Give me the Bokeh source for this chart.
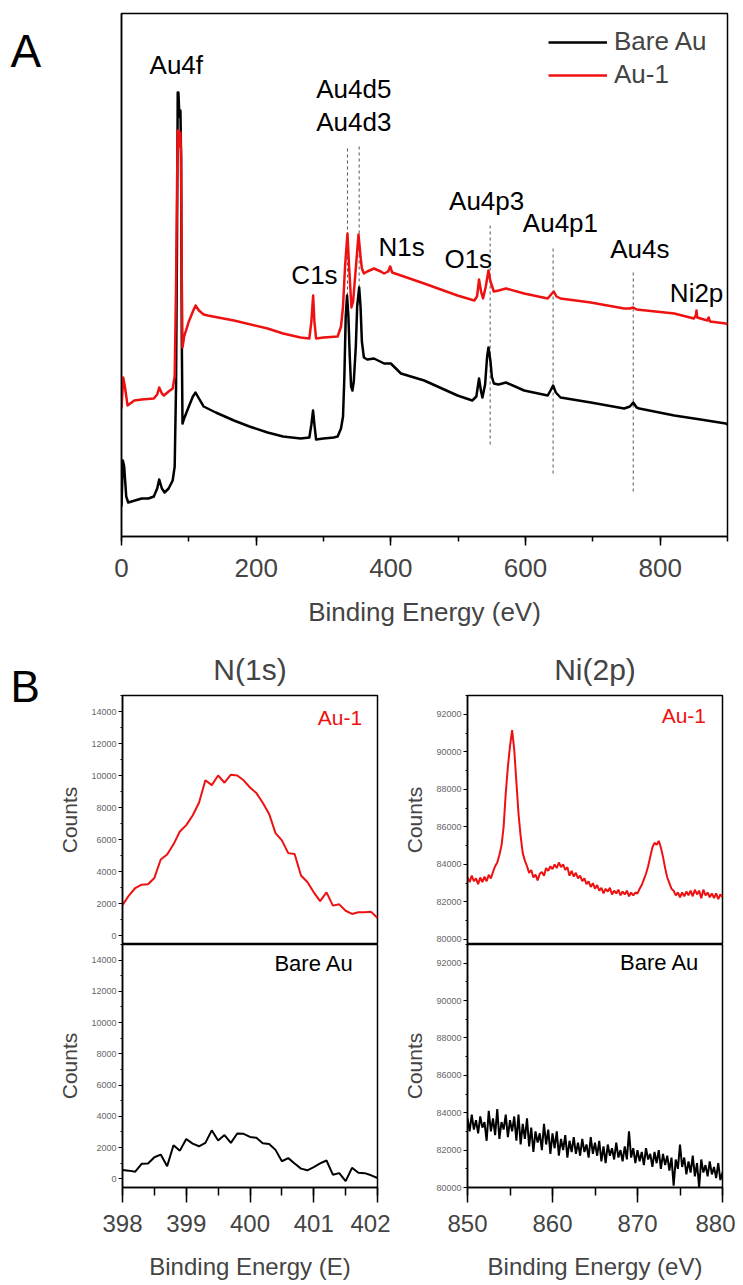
import numpy as np
from bokeh.plotting import figure
from bokeh.layouts import column, row
from bokeh.models import SingleIntervalTicker, FixedTicker, Label, Range1d
from bokeh.core.properties import value
from bokeh.embed import file_html
from bokeh.resources import INLINE

FONT = "Liberation Sans"
RED = "#ee1111"

# ---------------- Panel A: XPS survey (arbitrary intensity units) ----------------
bare_ev = [0, 2, 4, 7, 10, 20, 30, 40, 48, 53, 56, 60, 64, 70, 76, 79, 81, 82.5, 83.5, 84.5,
           86, 87.5, 88.5, 89.5, 90.6, 93, 100, 106, 110, 115, 122, 128, 140, 167, 190, 217,
           240, 266, 279, 282, 284.5, 286.5, 289, 300, 315, 321, 326, 329, 331, 333, 335, 337,
           339, 341, 343, 345, 348, 350, 353, 355, 357, 360, 365, 375, 390, 400, 415, 449.5,
           499, 521, 527, 531, 534, 536, 540, 543, 545, 548, 550, 553, 560, 571, 598, 633, 638,
           641, 645, 652, 697, 746.5, 755, 760, 765, 769, 821, 860, 897.5, 900]
bare_int = [30, 76, 70, 40, 34, 36, 38, 38, 40, 48, 57, 48, 44, 48, 56, 70, 150, 300, 444, 444,
            420, 426, 380, 200, 113, 118, 130, 140, 144, 138, 130, 128, 124, 116, 110, 104,
            100, 98, 99, 112, 126, 112, 97, 98, 99, 100, 108, 120, 160, 220, 241, 220,
            180, 150, 146, 155, 190, 230, 249, 230, 195, 179, 177, 178, 173, 173, 163, 156,
            141, 136, 140, 158, 145, 139, 152, 180, 189, 175, 160, 153, 152, 154, 146, 141, 147,
            151, 144, 139, 134, 128, 130, 134, 129, 128, 121, 117, 113, 112]

au1_ev = [0, 2.5, 5, 9, 19, 30, 48, 53, 56, 60, 63, 70, 76, 79, 81, 82.5, 83.5, 84.5, 86, 87.5,
          88.5, 89.5, 90.6, 93, 100, 106, 110, 115, 122, 128, 167, 217, 240, 266, 279, 282,
          284.6, 286.5, 289, 300, 321, 326, 329, 332, 335.6, 338, 341.5, 344, 347, 352, 355,
          357, 360, 365, 375, 385, 390, 396, 399, 402, 415, 449.5, 499, 524, 528, 531, 534,
          537, 541, 545, 548, 553, 560, 571, 598, 633, 638, 642, 646, 652, 697, 746.5, 755,
          760, 765, 821, 850, 853, 854, 855, 860, 870, 872, 874, 897.5, 900]
au1_int = [128, 159, 150, 131, 136, 137, 138, 142, 149, 143, 141, 145, 148, 160, 250, 350, 406,
           406, 390, 404, 380, 260, 189, 200, 215, 225, 231, 226, 222, 221, 216, 208, 203, 199,
           198, 215, 241, 215, 198, 199, 200, 210, 230, 270, 303, 270, 229, 235, 260, 302, 280,
           268, 263, 265, 268, 265, 263, 265, 270, 264, 261, 253, 241, 236, 240, 257, 245, 238,
           250, 266, 255, 245, 246, 248, 243, 238, 242, 245, 240, 238, 234, 228, 228, 229, 227,
           223, 218, 221, 226, 219, 218, 216, 219, 215, 213, 212]

# dashed peak markers (eV, top, bottom in intensity units)
marker_ev = [335.6, 353.0, 547.5, 641.0, 760.0]
marker_top = [389, 393, 311, 289, 266]
marker_bottom = [241, 249, 92, 63, 45]

peak_names = ["Au4f", "Au4d5", "Au4d3", "C1s", "N1s", "O1s", "Au4p3", "Au4p1", "Au4s", "Ni2p"]
peak_label_ev = [81.4, 345, 345, 286.6, 416, 515, 542.3, 651.9, 769.8, 854.1]
peak_label_y = [472, 448, 415, 262, 290, 278, 336, 314, 288, 244]

# ---------------- Panel B: N(1s) ----------------
n1s_ev = [398.0, 398.1, 398.2, 398.3, 398.4, 398.5, 398.6, 398.7, 398.8, 398.9,
          399.0, 399.1, 399.2, 399.3, 399.4, 399.5, 399.6, 399.7, 399.8, 399.9,
          400.0, 400.1, 400.2, 400.3, 400.4, 400.5, 400.6, 400.7, 400.8, 400.9,
          401.0, 401.1, 401.2, 401.3, 401.4, 401.5, 401.6, 401.7, 401.8, 401.9, 402.0]
n1s_au1 = [1900, 2500, 2970, 3180, 3200, 3600, 4750, 5060, 5700, 6500,
           6900, 7500, 8300, 9700, 9400, 10000, 9550, 10050, 10000, 9700,
           9250, 8900, 8300, 7600, 6400, 5950, 5150, 5100, 3750, 3350,
           2700, 2150, 2700, 1870, 1950, 1550, 1350, 1450, 1460, 1480, 1100]
n1s_bare = [560, 520, 450, 960, 980, 1380, 1550, 800, 2150, 1800,
            2550, 2250, 2080, 2300, 3100, 2450, 2800, 2300, 2900, 2880,
            2680, 2620, 2280, 2230, 1850, 1120, 1320, 980, 650, 540,
            740, 980, 1170, 260, 360, -150, 700, 380, 360, 220, 50]

# ---------------- Panel B: Ni(2p), 0.25 eV steps from 850 to 880 ----------------
ni2p_au1 = [83300, 83050, 83400, 83100, 83250, 82950, 83300, 83050, 83350, 83100,
            83450, 83250, 83600, 83900, 84100, 84500, 85000, 86000, 87800, 89200,
            90300, 91150, 90100, 88400, 86700, 85500, 84600, 84200, 83900, 83550,
            83700, 83300, 83450, 83150, 83500, 83600, 83400, 83800, 83650, 83900,
            83750, 84000, 83800, 84100, 83850, 84000, 83700, 83850, 83400, 83650,
            83350, 83550, 83250, 83400, 83100, 83250, 82950, 83100, 82800, 83000,
            82700, 82900, 82600, 82750, 82450, 82700, 82550, 82750, 82400, 82600,
            82450, 82650, 82350, 82550, 82400, 82600, 82300, 82500, 82350, 82500,
            82450, 82700, 82900, 83200, 83500, 83900, 84400, 84900, 85150, 85050,
            85250, 84900, 84400, 83800, 83300, 83000, 82700, 82600, 82350, 82500,
            82250, 82500, 82300, 82550, 82350, 82600, 82300, 82650, 82400, 82600,
            82200, 82650, 82350, 82500, 82250, 82450, 82200, 82450, 82150, 82400,
            82250]
ni2p_bare = [83700, 83000, 83900, 83100, 83600, 82900, 83800, 83200, 83500, 82500,
             84100, 83000, 83700, 82800, 84200, 82600, 83500, 83100, 83900, 82700,
             83600, 83000, 83800, 82500, 83900, 82300, 83400, 82600, 83700, 82200,
             83200, 81900, 83000, 82400, 82900, 82000, 83400, 82300, 83100, 81800,
             82900, 82100, 83000, 81700, 82600, 82000, 82800, 81600, 82500, 81900,
             82700, 81800, 82400, 81700, 82600, 81900, 82300, 81600, 82700, 81800,
             82400, 81700, 82500, 81400, 82200, 81300, 82300, 81700, 82100, 81500,
             82400, 81600, 82000, 81400, 82200, 81500, 83000, 81600, 82100, 81300,
             82000, 81400, 81900, 81200, 82100, 81500, 81800, 81100, 81900, 81300,
             82000, 81000, 81800, 81200, 81700, 80900, 81600, 80100, 81500, 81000,
             82300, 81100, 81600, 80700, 81400, 80800, 81700, 80600, 81300, 80000,
             81500, 80800, 81200, 80600, 81400, 80700, 81100, 80500, 81300, 80400,
             80800]
ni2p_ev = list(np.linspace(850.0, 880.0, len(ni2p_au1)))


def base_style(p):
    p.xgrid.visible = False
    p.ygrid.visible = False
    p.outline_line_color = "black"
    p.outline_line_width = 1.5
    p.outline_line_alpha = 1.0
    p.background_fill_color = "white"
    p.border_fill_color = "white"
    for ax in p.axis:
        ax.axis_line_width = 1.5
        ax.axis_label_text_font = FONT
        ax.axis_label_text_font_style = "normal"
        ax.major_label_text_font = FONT
        ax.major_tick_in = 0
        ax.minor_tick_in = 0


def letter_panel(letter, height, size):
    # a small axis-free canvas that only carries the panel letter
    p = figure(width=50, height=height, x_range=Range1d(0, 50), y_range=Range1d(height, 0),
               output_backend="svg", toolbar_location=None, min_border=0,
               x_axis_location=None, y_axis_location=None)
    p.xgrid.visible = False
    p.ygrid.visible = False
    p.outline_line_color = None
    p.background_fill_color = "white"
    p.border_fill_color = "white"
    p.text(x=[10], y=[46], text=[letter], text_font=value(FONT), text_font_size=size,
           text_align="left", text_baseline="middle", text_color="black")
    return p


# ---------------- Panel A figure ----------------
top = figure(width=685, height=640, x_range=Range1d(0, 900), y_range=Range1d(0, 523),
             output_backend="svg", toolbar_location=None,
             min_border_left=71, min_border_right=8, min_border_top=13, min_border_bottom=104)
base_style(top)
top.xaxis.ticker = SingleIntervalTicker(interval=200, num_minor_ticks=2)
top.xaxis.major_tick_out = 9
top.xaxis.minor_tick_out = 5
top.xaxis.major_tick_line_width = 1.5
top.xaxis.minor_tick_line_width = 1.5
top.xaxis.major_label_text_font_size = "26px"
top.xaxis.major_label_standoff = 13
top.xaxis.axis_label = "Binding Energy (eV)"
top.xaxis.axis_label_text_font_size = "26px"
top.xaxis.axis_label_standoff = 17
top.yaxis.ticker = FixedTicker(ticks=[])
top.yaxis.major_tick_line_color = None
top.yaxis.minor_tick_line_color = None

top.segment(x0=marker_ev, y0=marker_bottom, x1=marker_ev, y1=marker_top,
            line_color="#555555", line_width=1, line_dash="3 3")
top.line(bare_ev, bare_int, line_color="black", line_width=2.5, line_join="round",
         legend_label="Bare Au")
top.line(au1_ev, au1_int, line_color=RED, line_width=2.5, line_join="round",
         legend_label="Au-1")
top.text(x=peak_label_ev, y=peak_label_y, text=peak_names, text_font=value(FONT),
         text_font_size="26px", text_align="center", text_baseline="middle",
         text_color="black")

top.legend.location = "top_right"
top.legend.border_line_color = None
top.legend.background_fill_alpha = 0
top.legend.label_text_font = FONT
top.legend.label_text_font_size = "26px"
top.legend.glyph_width = 59
top.legend.glyph_height = 30
top.legend.label_height = 30
top.legend.label_width = 100
top.legend.label_standoff = 7
top.legend.spacing = 2
top.legend.padding = 0
top.legend.margin = 13

letter_a = letter_panel("A", 640, "46px")


# ---------------- Panel B figures ----------------
def b_panel(title, x_range, y_range, upper, left_border, width):
    kw = dict(width=width, output_backend="svg", toolbar_location=None,
              x_range=x_range, y_range=y_range,
              min_border_left=left_border, min_border_right=13)
    if upper:
        p = figure(height=304, min_border_top=55, min_border_bottom=0,
                   x_axis_location=None, title=title, **kw)
        p.title.text_font = FONT
        p.title.text_font_size = "30px"
        p.title.text_font_style = "normal"
        p.title.align = "center"
        p.title.standoff = 19
    else:
        p = figure(height=339, min_border_top=0, min_border_bottom=96, **kw)
    base_style(p)
    p.yaxis.ticker = SingleIntervalTicker(interval=2000, num_minor_ticks=2)
    p.yaxis.major_label_text_font_size = "9px"
    p.yaxis.major_label_text_color = "#666666"
    p.yaxis.major_tick_out = 4
    p.yaxis.minor_tick_out = 2
    p.yaxis.major_label_standoff = 2
    p.yaxis.axis_label = "Counts"
    p.yaxis.axis_label_text_font_size = "21px"
    p.yaxis.axis_label_standoff = 7
    if not upper:
        p.xaxis.major_tick_out = 15
        p.xaxis.minor_tick_out = 8
        p.xaxis.major_tick_line_width = 1.5
        p.xaxis.minor_tick_line_width = 1.5
        p.xaxis.major_label_text_font_size = "24px"
        p.xaxis.major_label_standoff = 12
        p.xaxis.axis_label_text_font_size = "24px"
        p.xaxis.axis_label_standoff = 18
    return p


n_x = Range1d(398, 402)
ni_x = Range1d(850, 880)

nl_top = b_panel("N(1s)", n_x, Range1d(-560, 15000), True, 72, 340)
nl_top.line(n1s_ev, n1s_au1, line_color=RED, line_width=2)
nl_top.add_layout(Label(x=401.76, y=12900, text="Au-1", text_align="right",
                        text_color=RED, text_font=FONT, text_font_size="21px"))

nl_bot = b_panel("", n_x, Range1d(-560, 15000), False, 72, 340)
nl_bot.xaxis.ticker = SingleIntervalTicker(interval=1, num_minor_ticks=2)
nl_bot.xaxis.axis_label = "Binding Energy (E)"
nl_bot.line(n1s_ev, n1s_bare, line_color="black", line_width=2)
nl_bot.add_layout(Label(x=401.63, y=13000, text="Bare Au", text_align="right",
                        text_color="black", text_font=FONT, text_font_size="22px"))

nr_top = b_panel("Ni(2p)", ni_x, Range1d(79730, 93000), True, 77, 345)
nr_top.line(ni2p_ev, ni2p_au1, line_color=RED, line_width=2)
nr_top.add_layout(Label(x=878.06, y=91300, text="Au-1", text_align="right",
                        text_color=RED, text_font=FONT, text_font_size="21px"))

nr_bot = b_panel("", ni_x, Range1d(80000, 93000), False, 77, 345)
nr_bot.xaxis.ticker = SingleIntervalTicker(interval=10, num_minor_ticks=2)
nr_bot.xaxis.axis_label = "Binding Energy (eV)"
nr_bot.line(ni2p_ev, ni2p_bare, line_color="black", line_width=2)
nr_bot.add_layout(Label(x=877.3, y=91375, text="Bare Au", text_align="right",
                        text_color="black", text_font=FONT, text_font_size="22px"))

letter_b = letter_panel("B", 643, "44px")

layout = column(
    row(letter_a, top, spacing=0),
    row(letter_b, column(nl_top, nl_bot, spacing=0), column(nr_top, nr_bot, spacing=0),
        spacing=0),
    spacing=0,
)

open("out.html", "w").write(file_html(layout, INLINE))
